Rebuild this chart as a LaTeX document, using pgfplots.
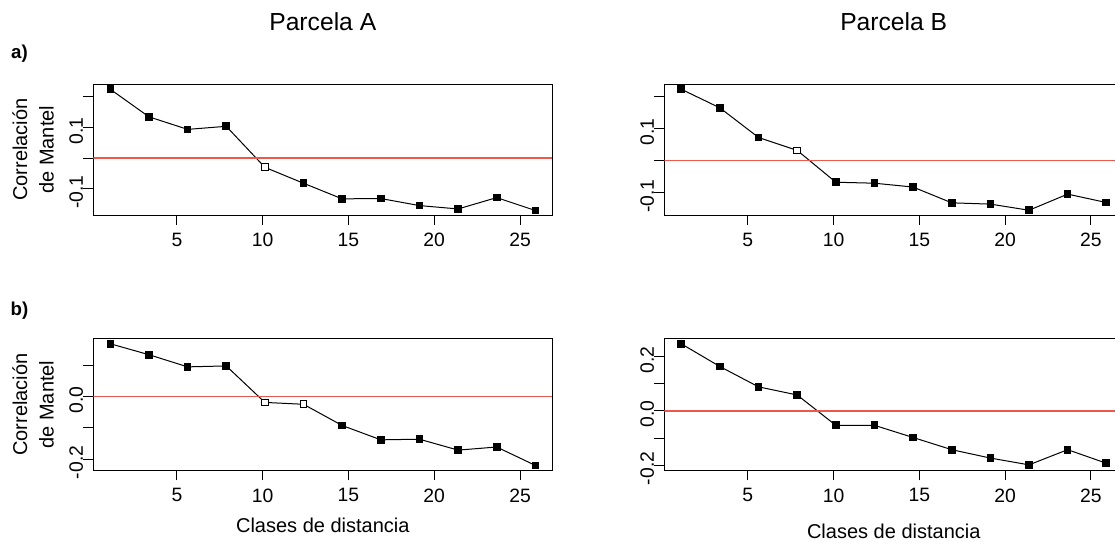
\documentclass[border=0pt]{standalone}
\usepackage{fontspec}
\setmainfont{Liberation Sans}
\usepackage{pgfplots}
\pgfplotsset{compat=1.18}
\definecolor{rline}{RGB}{236,88,78}
\pgfplotsset{
  rpanel/.style={
    scale only axis, width=344.25pt,
    axis line style={line width=0.75pt, black},
    tick align=outside, major tick length=7.5pt,
    tick style={line width=0.75pt, black},
    tick pos=left,
    xtick={5,10,15,20,25},
    xticklabels={5,10,15,20,25},
    xmin=0.129, xmax=26.883,
    ticklabel style={font=\fontsize{14.5}{17}\selectfont},
    yticklabel style={rotate=90, anchor=south, inner sep=0pt, xshift=-2.5pt},
    xticklabel style={anchor=north, inner sep=0pt, yshift=-6pt},
    label style={font=\fontsize{15}{20}\selectfont},
    ylabel style={at={(axis description cs:-0.1312,0.5)}, anchor=center, align=center},
    /pgf/number format/assume math mode=true,
  },
  ser/.style={black, line width=0.75pt, mark=square*, mark size=2.5pt,
    mark options={solid, fill=black, draw=black, line width=0.75pt}},
  opn/.style={only marks, mark=square*, mark size=2.5pt,
    mark options={solid, fill=white, draw=black, line width=0.75pt}},
  hzero/.style={color=rline, solid, line width=1pt, mark=none},
}
\pgfplotstableread{
x y
1.12 0.225
3.372 0.135
5.624 0.094
7.876 0.104
10.128 -0.030
12.38 -0.082
14.632 -0.133
16.884 -0.132
19.136 -0.155
21.388 -0.166
23.64 -0.129
25.892 -0.171
}\dataA
\pgfplotstableread{
x y
1.12 0.222
3.372 0.164
5.624 0.072
7.876 0.032
10.128 -0.067
12.38 -0.070
14.632 -0.082
16.884 -0.131
19.136 -0.135
21.388 -0.154
23.64 -0.104
25.892 -0.130
}\dataB
\pgfplotstableread{
x y
1.12 0.170
3.372 0.135
5.624 0.096
7.876 0.099
10.128 -0.018
12.38 -0.024
14.632 -0.092
16.884 -0.138
19.136 -0.136
21.388 -0.171
23.64 -0.161
25.892 -0.220
}\dataC
\pgfplotstableread{
x y
1.12 0.248
3.372 0.164
5.624 0.089
7.876 0.059
10.128 -0.053
12.38 -0.053
14.632 -0.098
16.884 -0.143
19.136 -0.174
21.388 -0.199
23.64 -0.143
25.892 -0.193
}\dataD
\begin{document}
\begin{tikzpicture}
\useasboundingbox (0,0) rectangle (836.25pt,406.5pt);
% titles and panel letters
\node[font=\fontsize{18.5}{22}\selectfont] at (242.1pt,390pt) {Parcela A};
\node[font=\fontsize{18.5}{22}\selectfont] at (670.3pt,390pt) {Parcela B};
\node[font=\fontsize{14}{16}\selectfont\bfseries] at (14.6pt,366.2pt) {a)};
\node[font=\fontsize{14}{16}\selectfont\bfseries] at (14.6pt,173.5pt) {b)};
% A
\begin{axis}[rpanel, at={(70pt,245.2pt)}, anchor=south west, height=98pt,
  ymin=-0.186, ymax=0.241, ytick={-0.1,0,0.1,0.2}, yticklabels={{-0.1},{},{0.1},{}},
  ylabel={Correlación\\de Mantel}]
\addplot[ser] table[x=x,y=y] {\dataA};
\addplot[opn] coordinates {(10.128,-0.030)};
\addplot[hzero] coordinates {(0.129,0) (26.883,0)};
\end{axis}
% B
\begin{axis}[rpanel, at={(498.2pt,245.2pt)}, anchor=south west, height=98pt,
  ymin=-0.169, ymax=0.237, ytick={-0.1,0,0.1,0.2}, yticklabels={{-0.1},{},{0.1},{}}]
\addplot[ser] table[x=x,y=y] {\dataB};
\addplot[opn] coordinates {(7.876,0.032)};
\addplot[hzero] coordinates {(0.129,0) (26.883,0)};
\end{axis}
% C
\begin{axis}[rpanel, at={(70pt,53.8pt)}, anchor=south west, height=98.5pt,
  ymin=-0.2356, ymax=0.1856, ytick={-0.2,-0.1,0,0.1}, yticklabels={{-0.2},{},{0.0},{}},
  ylabel={Correlación\\de Mantel}, xlabel={Clases de distancia},
  xlabel style={at={(axis description cs:0.5,0)}, anchor=center, yshift=-41pt}]
\addplot[ser] table[x=x,y=y] {\dataC};
\addplot[opn] coordinates {(10.128,-0.018) (12.38,-0.024)};
\addplot[hzero] coordinates {(0.129,0) (26.883,0)};
\end{axis}
% D
\begin{axis}[rpanel, at={(498.2pt,53.8pt)}, anchor=south west, height=98.5pt,
  ymin=-0.219, ymax=0.266, ytick={-0.2,-0.1,0,0.1,0.2}, yticklabels={{-0.2},{},{0.0},{},{0.2}},
  xlabel={Clases de distancia},
  xlabel style={at={(axis description cs:0.5,0)}, anchor=center, yshift=-46pt}]
\addplot[ser] table[x=x,y=y] {\dataD};
\addplot[hzero] coordinates {(0.129,0) (26.883,0)};
\end{axis}
\end{tikzpicture}
\end{document}
